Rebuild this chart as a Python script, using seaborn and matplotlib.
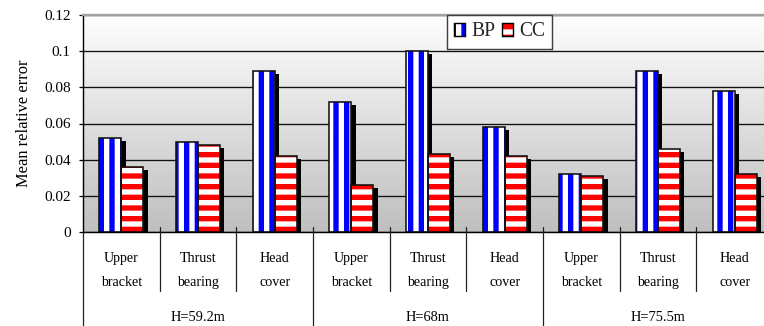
import numpy as np
import pandas as pd
import matplotlib
matplotlib.use("Agg")
import matplotlib.pyplot as plt
import matplotlib.patheffects as pe
from matplotlib.colors import LinearSegmentedColormap
from matplotlib.patches import Patch, Rectangle
from matplotlib.transforms import blended_transform_factory
import seaborn as sns

# ---- data ---------------------------------------------------------------
heads = ["H=59.2m", "H=68m", "H=75.5m"]
components = ["Upper\nbracket", "Thrust\nbearing", "Head\ncover"]
methods = ["BP", "CC"]
bp_error = [0.052, 0.050, 0.089, 0.072, 0.100, 0.058, 0.032, 0.089, 0.078]
cc_error = [0.036, 0.048, 0.042, 0.026, 0.043, 0.042, 0.031, 0.046, 0.032]
y_ticks = [0.0, 0.02, 0.04, 0.06, 0.08, 0.10, 0.12]
y_tick_labels = ["0", "0.02", "0.04", "0.06", "0.08", "0.1", "0.12"]

stripe_color = {"BP": "#0000ff", "CC": "#ff0000"}
stripe_hatch = {"BP": "||", "CC": "--"}

# ---- style --------------------------------------------------------------
sns.set_theme(style="white")
plt.rcParams["font.family"] = ["Liberation Serif", "DejaVu Serif"]
plt.rcParams["hatch.linewidth"] = 3.0

DPI = 128
W, H = 764, 326

slots = [f"{h}|{c}" for h in heads for c in components]
df = pd.DataFrame({
    "slot": slots * 2,
    "method": ["BP"] * len(slots) + ["CC"] * len(slots),
    "error": bp_error + cc_error,
})

fig = plt.figure(figsize=(W / DPI, H / DPI), dpi=DPI)
ax = fig.add_axes([83 / W, 94 / H, 690 / W, 217 / H])

# grey gradient backdrop of the plotting area
grad = LinearSegmentedColormap.from_list("bg", ["#fefefe", "#bfbfbf"])
ax.imshow(np.linspace(0, 1, 256).reshape(-1, 1), cmap=grad, aspect="auto",
          extent=(0, 1, 0, 1), transform=ax.transAxes, zorder=0)

sns.barplot(data=df, x="slot", y="error", hue="method", order=slots,
            hue_order=methods, palette={"BP": "white", "CC": "white"},
            saturation=1, width=0.574, legend=False, errorbar=None, ax=ax)

shadow = pe.SimplePatchShadow(offset=(2.4, -1.7), shadow_rgbFace="black",
                              alpha=1.0, hatch=None)
for method, container in zip(methods, ax.containers):
    for bar in container:
        bar.set_facecolor("white")
        bar.set_edgecolor(stripe_color[method])
        bar.set_hatch(stripe_hatch[method])
        bar.set_linewidth(0)
        bar.set_zorder(3)
        bar.set_path_effects([shadow, pe.Normal()])
        ax.add_patch(Rectangle(bar.get_xy(), bar.get_width(), bar.get_height(),
                               fill=False, edgecolor="#111111", lw=0.9, zorder=4))

# axes limits, grid and spines
ax.set_xlim(-0.5, len(slots) - 0.5)
ax.set_ylim(0, 0.12)
ax.set_yticks(y_ticks, y_tick_labels)
ax.yaxis.grid(True, color="#111111", lw=0.75)
ax.set_axisbelow(True)
for g in ax.yaxis.get_gridlines():
    g.set_zorder(1)
ax.spines["top"].set_color("#a0a0a0")
ax.spines["top"].set_linewidth(1.3)
ax.spines["right"].set_visible(False)
ax.spines["left"].set_color("black")
ax.spines["left"].set_linewidth(0.8)
ax.spines["bottom"].set_color("black")
ax.spines["bottom"].set_linewidth(0.8)
for s in ax.spines.values():
    s.set_zorder(5)

ax.tick_params(axis="y", which="major", left=True, direction="out", length=2.4,
               width=0.7, color="black", labelsize=8.6, pad=4.5, labelcolor="black")
ax.set_ylabel("Mean relative error", fontsize=9.3, color="black", labelpad=7)

ax.set_xlabel("")
ax.set_xticks(range(len(slots)), [c for _ in heads for c in components])
ax.tick_params(axis="x", bottom=False, labelsize=7.9, pad=5.5, labelcolor="black")
for lab in ax.get_xticklabels():
    lab.set_linespacing(2.05)

# category table below the axis
blend = blended_transform_factory(ax.transData, ax.transAxes)
n_comp = len(components)
for i in range(len(slots)):
    x = i - 0.5
    if i % n_comp == 0:
        y0, y1 = (0.0 if i == 0 else 0.023), -0.46
    else:
        y0, y1 = 0.023, -0.272
    ax.plot([x, x], [y0, y1], transform=blend, clip_on=False,
            color="#222222", lw=0.7, zorder=6)

for gi, head in enumerate(heads):
    centre = gi * n_comp + (n_comp - 1) / 2
    ax.text(centre, -0.392, head, transform=blend, ha="center", va="center",
            fontsize=8.1, color="black")

# legend
handles = [
    (Patch(facecolor="white", edgecolor=stripe_color[m], hatch=stripe_hatch[m], lw=0),
     Patch(facecolor="none", edgecolor="black", lw=0.8))
    for m in methods
]
leg = ax.legend(handles, methods, ncol=2, loc="upper left",
                bbox_to_anchor=(447 / W, 1 - 15 / H), bbox_transform=fig.transFigure,
                borderaxespad=0, fontsize=11, handlelength=0.56, handleheight=0.6,
                handletextpad=0.3, columnspacing=0.35, borderpad=0.38,
                frameon=True, fancybox=False, framealpha=1)
leg.get_frame().set_edgecolor("#404040")
leg.get_frame().set_linewidth(0.8)
leg.get_frame().set_facecolor("white")
leg.set_zorder(7)

fig.savefig("out.png", dpi=DPI)
